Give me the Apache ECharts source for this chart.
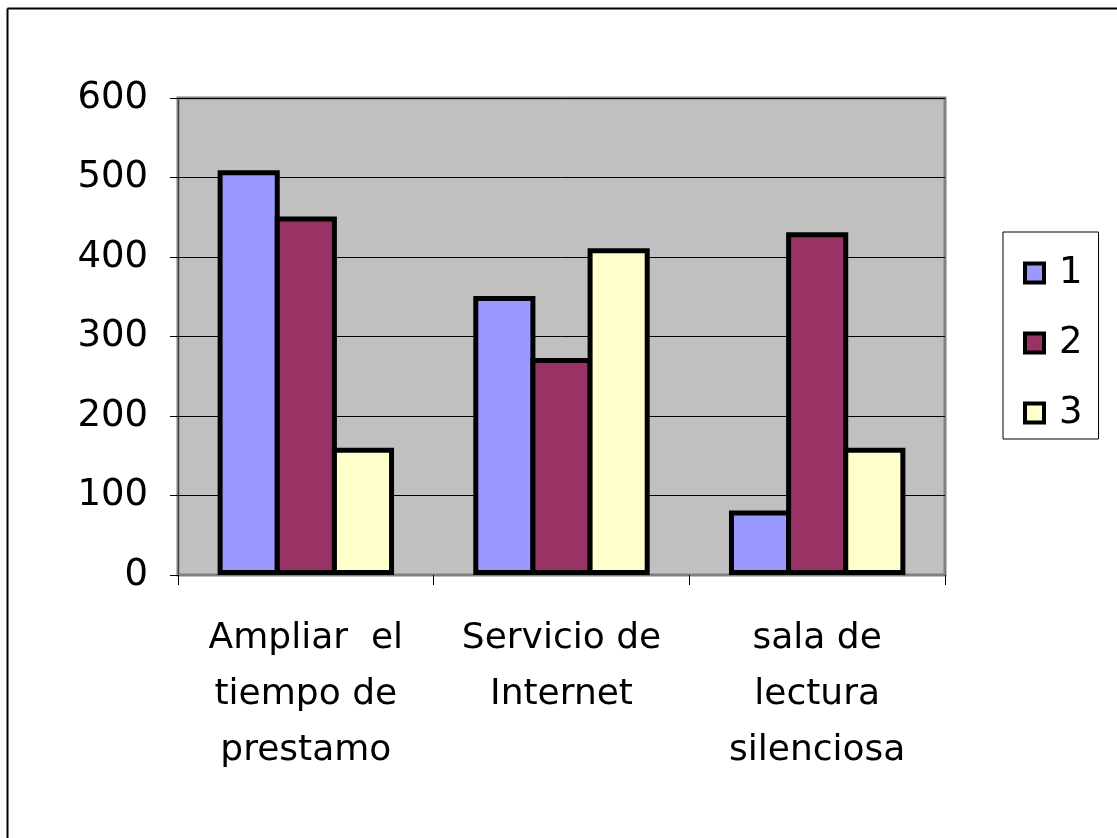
<!DOCTYPE html>
<html>
<head>
<meta charset="utf-8">
<script src="https://cdn.jsdelivr.net/npm/echarts@6/dist/echarts.min.js"></script>
<style>
html,body{margin:0;padding:0;background:#fff;}
#chart{width:1117px;height:838px;}
</style>
</head>
<body>
<div id="chart"></div>
<script>
const categories = ["Ampliar  el\ntiempo de\nprestamo", "Servicio de\nInternet", "sala de\nlectura\nsilenciosa"];
const seriesNames = ["1", "2", "3"];
const series1 = [509, 351, 81];
const series2 = [451, 273, 431];
const series3 = [160, 411, 160];
const colors = ["#9999ff", "#993366", "#ffffcc"];
const yTicks = { min: 0, max: 600, interval: 100 };

const FONT = "DejaVu Sans";
const chart = echarts.init(document.getElementById('chart'), null, { renderer: 'canvas' });

const values = [series1, series2, series3];
const option = {
  backgroundColor: '#ffffff',
  animation: false,
  graphic: [
    { type: 'line', shape: { x1: 7.5, y1: 8.5, x2: 1117, y2: 8.5 }, style: { stroke: '#000', lineWidth: 2 } },
    { type: 'line', shape: { x1: 7.5, y1: 8.5, x2: 7.5, y2: 838 }, style: { stroke: '#000', lineWidth: 2 } }
  ],
  grid: {
    left: 178, top: 98, width: 767, height: 477,
    show: true, backgroundColor: '#c0c0c0', borderColor: '#808080', borderWidth: 3
  },
  legend: {
    orient: 'vertical',
    left: 1003, top: 232,
    padding: [21, 16, 6, 20],
    itemWidth: 19, itemHeight: 19, itemGap: 30,
    borderColor: '#000', borderWidth: 1, backgroundColor: '#fff',
    itemStyle: { borderColor: '#000', borderWidth: 4 },
    textStyle: { fontFamily: FONT, fontSize: 37, color: '#000', lineHeight: 40, padding: [0, 0, 0, 10] },
    data: seriesNames.map(n => ({ name: n, icon: 'rect' }))
  },
  xAxis: {
    type: 'category',
    data: categories,
    axisLine: { show: true, lineStyle: { color: '#808080', width: 2 } },
    axisTick: { show: true, length: 10, lineStyle: { color: '#000', width: 1 } },
    axisLabel: { fontFamily: FONT, fontSize: 36, color: '#000', lineHeight: 56, margin: 36, interval: 0 },
    splitLine: { show: false }
  },
  yAxis: {
    type: 'value',
    min: yTicks.min, max: yTicks.max, interval: yTicks.interval,
    axisLine: { show: true, lineStyle: { color: '#404040', width: 1 } },
    axisTick: { show: true, length: 8, lineStyle: { color: '#000', width: 1 } },
    axisLabel: { fontFamily: FONT, fontSize: 37, color: '#000', margin: 30 },
    splitLine: { show: true, lineStyle: { color: '#000', width: 1 } }
  },
  series: seriesNames.map((n, i) => ({
    name: n,
    type: 'bar',
    data: values[i],
    barGap: '-8%',
    barCategoryGap: '31%',
    itemStyle: { color: colors[i], borderColor: '#000', borderWidth: 5 }
  }))
};
chart.setOption(option);
</script>
</body>
</html>
